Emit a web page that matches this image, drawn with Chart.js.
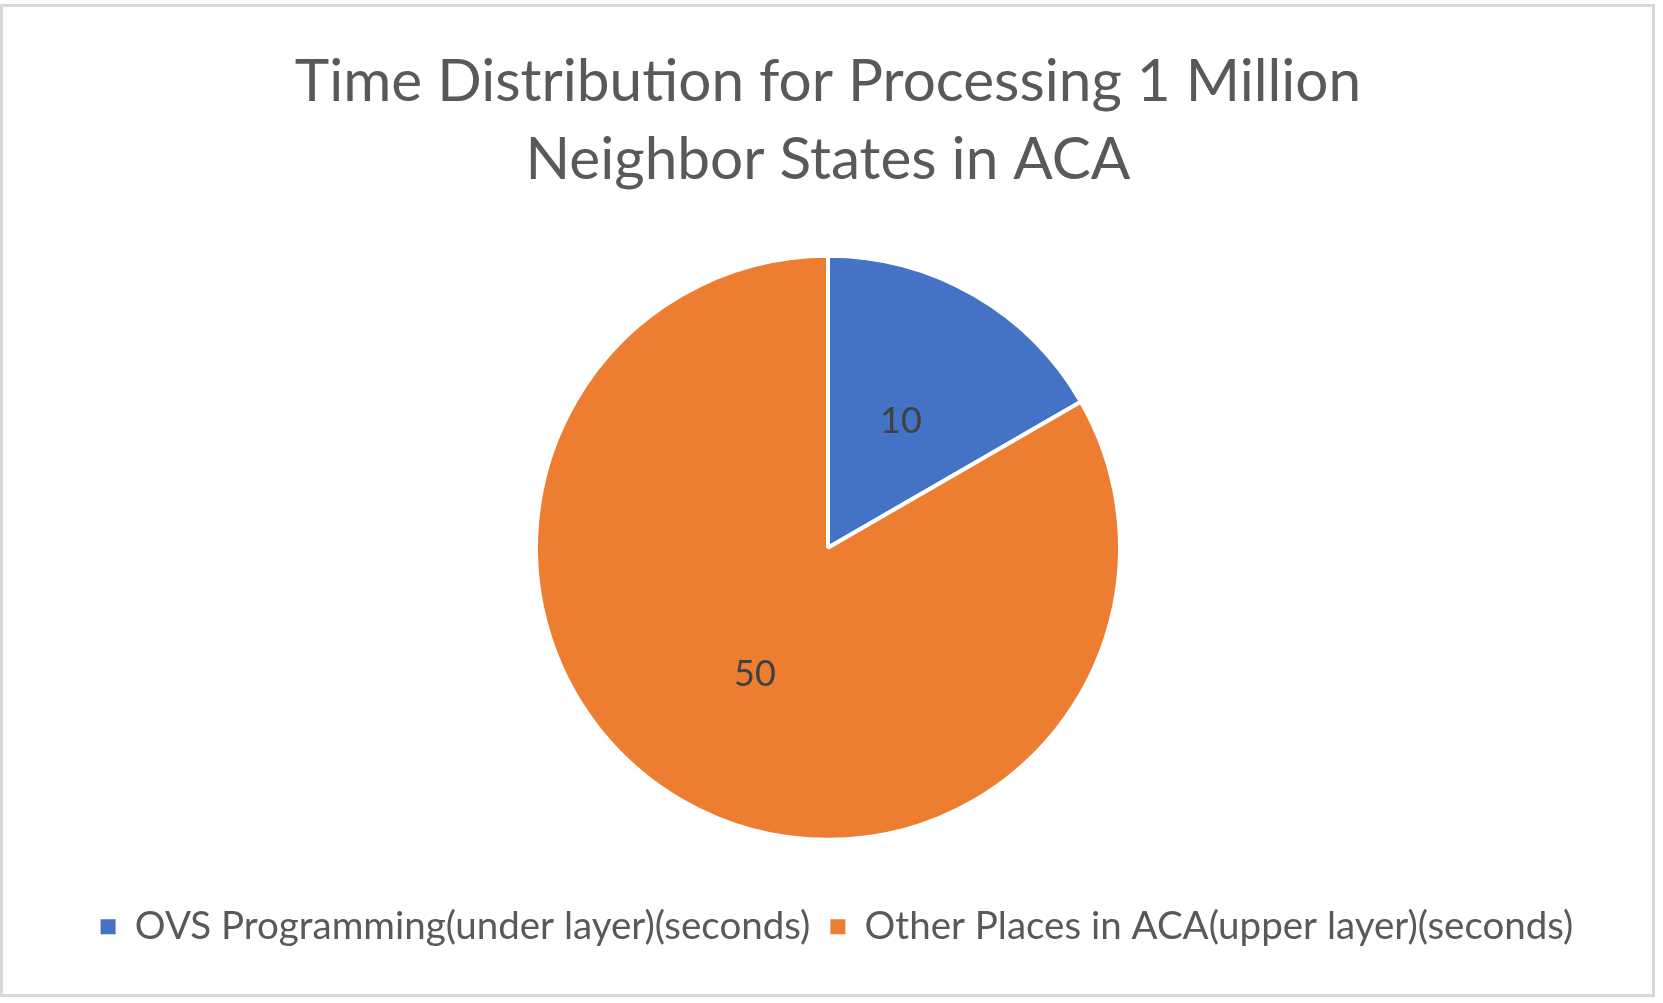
<!DOCTYPE html>
<html>
<head>
<meta charset="utf-8">
<script src="https://cdn.jsdelivr.net/npm/chart.js@4/dist/chart.umd.min.js"></script>
<style>
  html, body { margin: 0; padding: 0; background: #ffffff; }
  #wrap { position: absolute; left: 0; top: 0; width: 1663px; height: 1003px; }
</style>
</head>
<body>
<div id="wrap"><canvas id="c" width="1663" height="1003"></canvas></div>
<script>
const titleLines = ["Time Distribution for Processing 1 Million", "Neighbor States in ACA"];
const categories = ["OVS Programming(under layer)(seconds)", "Other Places in ACA(upper layer)(seconds)"];
const values = [10, 50];
const sliceColors = ["#4472C4", "#ED7D31"];

const FONT = "Lato, 'Open Sans', sans-serif";

const framePlugin = {
  id: 'frame',
  beforeDraw(chart) {
    const ctx = chart.ctx;
    ctx.save();
    ctx.fillStyle = '#ffffff';
    ctx.fillRect(0, 0, chart.width, chart.height);
    ctx.strokeStyle = '#d9d9d9';
    ctx.lineWidth = 3;
    ctx.strokeRect(1.5, 5.5, 1652, 990);
    ctx.restore();
  }
};

const legendShift = {
  id: 'legendShift',
  afterLayout(chart) {
    if (chart.legend) {
      chart.legend.left += 9;
      chart.legend.right += 9;
    }
  }
};

const labelPlugin = {
  id: 'sliceLabels',
  afterDatasetsDraw(chart) {
    const ctx = chart.ctx;
    const meta = chart.getDatasetMeta(0);
    ctx.save();
    ctx.font = "36px " + FONT;
    ctx.fillStyle = '#404040';
    ctx.textAlign = 'center';
    ctx.textBaseline = 'middle';
    meta.data.forEach((arc, i) => {
      const p = arc.getCenterPoint();
      ctx.fillText(String(chart.data.datasets[0].data[i]), p.x, p.y);
    });
    ctx.restore();
  }
};

const defaultPieLabels = Chart.overrides.pie.plugins.legend.labels.generateLabels;

new Chart(document.getElementById('c'), {
  type: 'pie',
  data: {
    labels: categories,
    datasets: [{
      data: values,
      backgroundColor: sliceColors,
      borderColor: '#ffffff',
      borderWidth: 4,
      radius: 292,
      hoverOffset: 0
    }]
  },
  options: {
    responsive: false,
    animation: false,
    events: [],
    layout: { padding: { top: 0, left: 0, right: 7, bottom: 47 } },
    plugins: {
      title: {
        display: true,
        text: titleLines,
        color: '#595959',
        font: { family: FONT, size: 58.5, weight: 'normal', lineHeight: '78px' },
        padding: { top: 43, bottom: 9 }
      },
      legend: {
        position: 'bottom',
        labels: {
          color: '#595959',
          font: { family: FONT, size: 38.5 },
          boxWidth: 15,
          boxHeight: 15,
          padding: 20,
          generateLabels(chart) {
            return defaultPieLabels(chart).map(item => Object.assign(item, { lineWidth: 0, strokeStyle: 'rgba(0,0,0,0)' }));
          }
        }
      },
      tooltip: { enabled: false }
    }
  },
  plugins: [framePlugin, legendShift, labelPlugin]
});
</script>
</body>
</html>
